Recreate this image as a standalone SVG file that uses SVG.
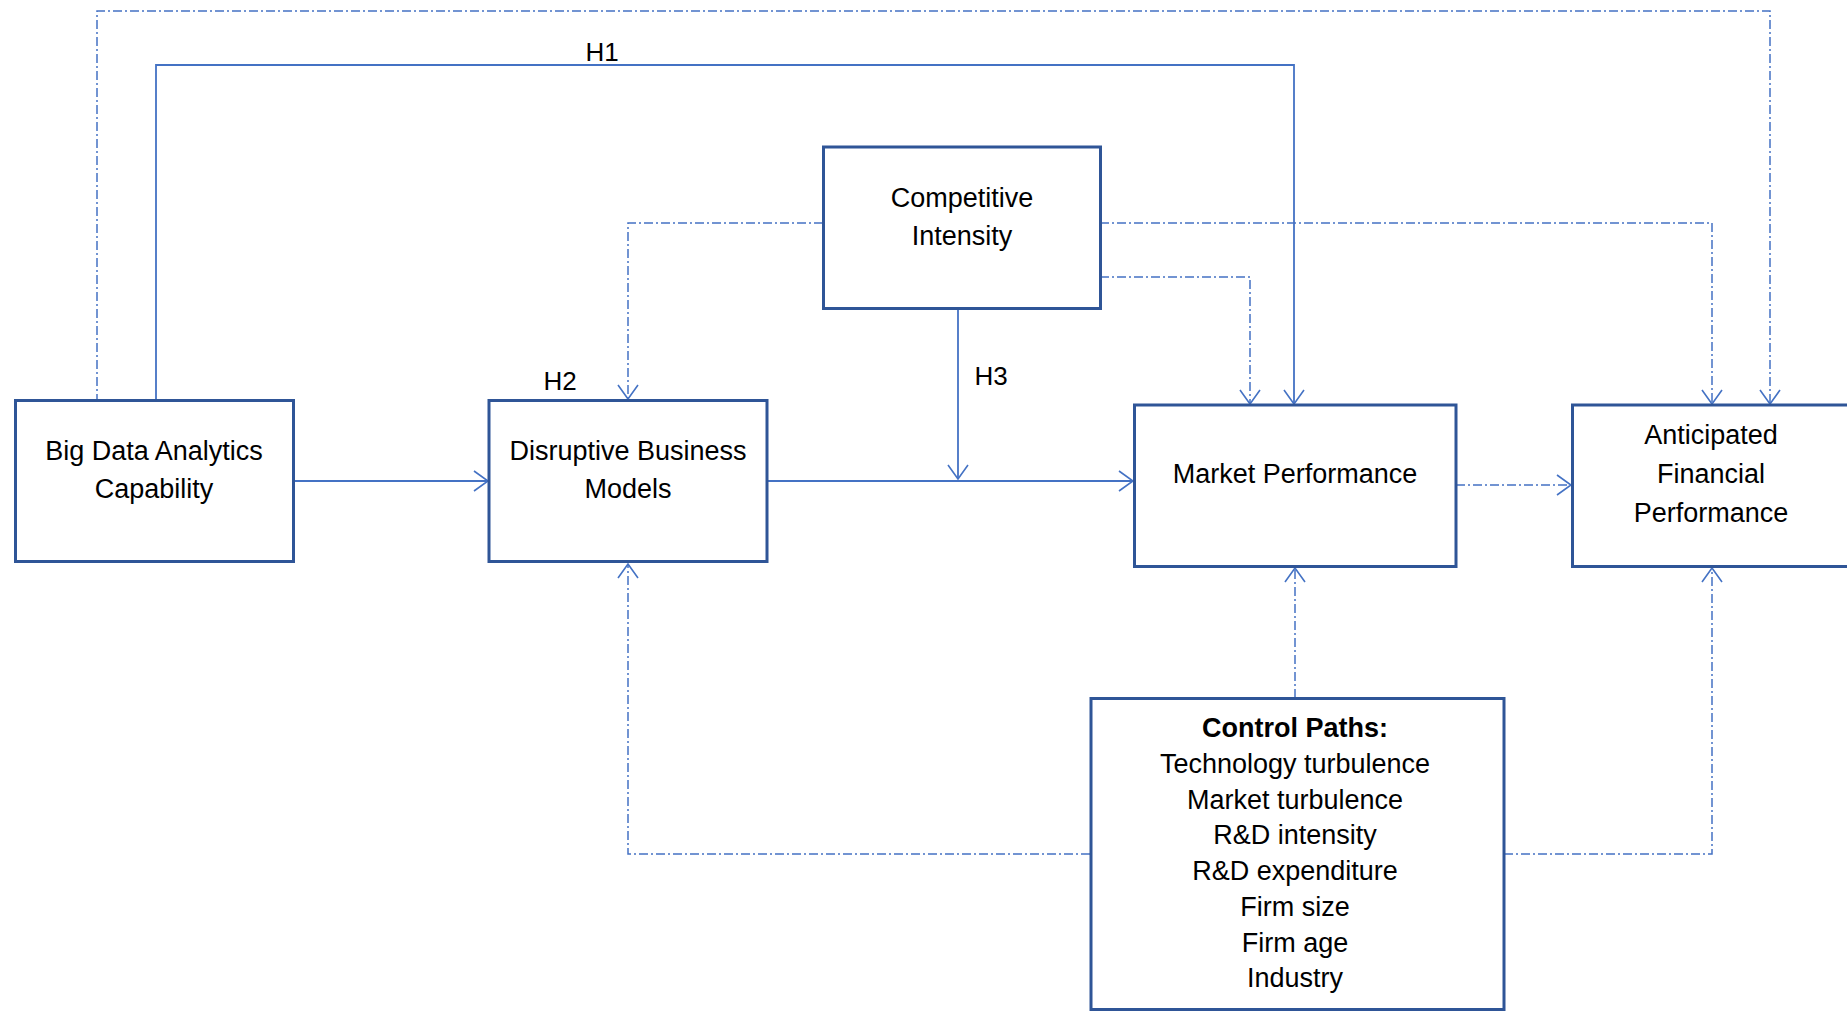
<svg xmlns="http://www.w3.org/2000/svg" width="1847" height="1011" viewBox="0 0 1847 1011">
<style>
.box{fill:#fff;stroke:#2F5597;stroke-width:3}
.t{font-family:"Liberation Sans",Arial,sans-serif;font-size:27px;fill:#000;text-anchor:middle}
.b{font-weight:bold}
.lbl{font-family:"Liberation Sans",Arial,sans-serif;font-size:26px;fill:#000;text-anchor:middle}
.solid{fill:none;stroke:#4472C4;stroke-width:1.8}
.dash{fill:none;stroke:#4472C4;stroke-width:1.5;stroke-dasharray:9 3 2 3}
</style>
<defs>
<marker id="arr" viewBox="0 0 16 22" refX="15" refY="11" markerWidth="16" markerHeight="22" markerUnits="userSpaceOnUse" orient="auto">
<path d="M1,1 L15,11 L1,21" fill="none" stroke="#4472C4" stroke-width="1.6"/>
</marker>
</defs>
<rect width="1847" height="1011" fill="#fff"/>
<g id="connectors">
<path class="dash" d="M97,403 V11 H1770 V404" marker-end="url(#arr)"/>
<path class="solid" d="M156,400 V65 H1294 V404" marker-end="url(#arr)"/>
<path class="dash" d="M823,223 H628 V399" marker-end="url(#arr)"/>
<path class="dash" d="M1100,277 H1250 V404" marker-end="url(#arr)"/>
<path class="dash" d="M1100,223 H1712 V404" marker-end="url(#arr)"/>
<path class="solid" d="M958,309 V479" marker-end="url(#arr)"/>
<path class="solid" d="M767,481 H1133" marker-end="url(#arr)"/>
<path class="solid" d="M293,481 H488" marker-end="url(#arr)"/>
<path class="dash" d="M1456,485 H1571" marker-end="url(#arr)"/>
<path class="dash" d="M1090,854 H628 V564" marker-end="url(#arr)"/>
<path class="dash" d="M1295,698 V568" marker-end="url(#arr)"/>
<path class="dash" d="M1504,854 H1712 V568" marker-end="url(#arr)"/>
<text class="lbl" x="602" y="61">H1</text>
<text class="lbl" x="560" y="390">H2</text>
<text class="lbl" x="991" y="385">H3</text>
</g>
<g id="bigdata">
<rect class="box" x="15.5" y="400.5" width="278" height="161"/>
<text class="t" x="154" y="460">Big Data Analytics</text>
<text class="t" x="154" y="498">Capability</text>
</g>
<g id="disruptive">
<rect class="box" x="489" y="400.5" width="278" height="161"/>
<text class="t" x="628" y="460">Disruptive Business</text>
<text class="t" x="628" y="498">Models</text>
</g>
<g id="competitive">
<rect class="box" x="823.5" y="147" width="277" height="161.5"/>
<text class="t" x="962" y="207">Competitive</text>
<text class="t" x="962" y="245">Intensity</text>
</g>
<g id="market">
<rect class="box" x="1134.5" y="405" width="321.5" height="161.5"/>
<text class="t" x="1295" y="483">Market Performance</text>
</g>
<g id="anticipated">
<rect class="box" x="1572.5" y="405" width="278" height="161.5"/>
<text class="t" x="1711" y="444">Anticipated</text>
<text class="t" x="1711" y="483">Financial</text>
<text class="t" x="1711" y="522">Performance</text>
</g>
<g id="control">
<rect class="box" x="1091" y="698.5" width="413" height="311"/>
<text class="t b" x="1295" y="737">Control Paths:</text>
<text class="t" x="1295" y="773">Technology turbulence</text>
<text class="t" x="1295" y="809">Market turbulence</text>
<text class="t" x="1295" y="844">R&amp;D intensity</text>
<text class="t" x="1295" y="880">R&amp;D expenditure</text>
<text class="t" x="1295" y="916">Firm size</text>
<text class="t" x="1295" y="952">Firm age</text>
<text class="t" x="1295" y="987">Industry</text>
</g>
</svg>
